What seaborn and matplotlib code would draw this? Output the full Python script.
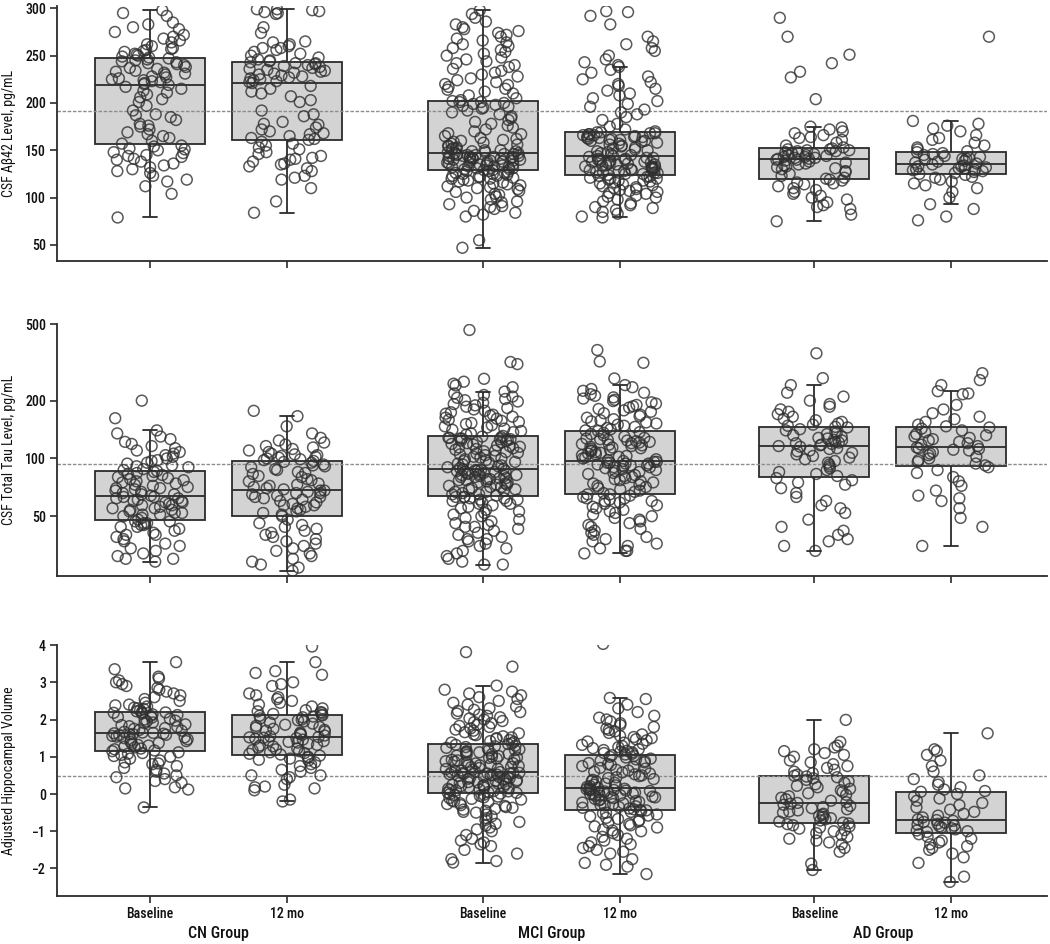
import numpy as np
import pandas as pd
import matplotlib
matplotlib.use("Agg")
import matplotlib.pyplot as plt
from matplotlib.ticker import FixedLocator, FixedFormatter, NullLocator
import seaborn as sns

# six boxes: three groups, baseline and 12 mo each
conditions = ["CN Baseline", "CN 12 mo", "MCI Baseline", "MCI 12 mo", "AD Baseline", "AD 12 mo"]
tick_labels = ["Baseline", "12 mo", "Baseline", "12 mo", "Baseline", "12 mo"]
group_names = ["CN Group", "MCI Group", "AD Group"]

# CSF Abeta42, pg/mL
abeta_cn_bl = [79, 104, 112, 117, 119, 123, 126, 128, 130, 132, 134, 136, 138, 140, 141, 143, 144, 145, 147, 148, 150, 151, 152, 154, 155,
               157, 160, 163, 165, 167, 169, 172, 175, 176, 178, 182, 185, 187, 188, 192, 197, 201, 204, 206, 209, 211, 213, 215, 217, 219,
               220, 221, 222, 223, 224, 225, 226, 227, 228, 230, 231, 232, 233, 234, 236, 237, 238, 240, 241, 242, 243, 244, 245, 246, 247,
               248, 249, 250, 251, 252, 254, 255, 256, 257, 258, 260, 262, 264, 266, 268, 270, 272, 275, 278, 280, 283, 285, 292, 295, 298]
abeta_cn_12 = [84, 96, 110, 119, 121, 123, 128, 131, 133, 135, 136, 138, 140, 141, 142, 144, 146, 148, 151, 153, 155, 157, 159,
               161, 162, 163, 165, 167, 168, 170, 172, 174, 177, 178, 180, 186, 188, 192, 201, 203, 207, 210, 212, 215, 218, 221,
               222, 223, 224, 225, 226, 227, 228, 229, 230, 231, 232, 233, 234, 235, 236, 237, 238, 239, 240, 241, 242, 242, 243,
               244, 245, 246, 248, 250, 252, 254, 256, 258, 258, 260, 262, 264, 265, 274, 280, 294, 295, 296, 297, 298, 299, 299]
abeta_mci_bl = [47, 55, 80, 82, 84, 86, 88, 90, 91, 93, 95, 96, 98, 100, 101, 103, 104, 106, 107, 109, 110, 111, 112, 113, 114,
                115, 116, 117, 118, 119, 120, 120, 121, 122, 122, 123, 123, 124, 125, 125, 126, 126, 127, 128, 128,
                129, 129, 130, 130, 131, 131, 132, 132, 133, 133, 134, 134, 135, 135, 136, 136, 137, 137, 138, 138, 139, 139, 140,
                140, 140, 141, 141, 141, 142, 142, 142, 143, 143, 143, 144, 144, 144, 145, 145, 145, 146, 146, 146, 147, 147,
                148, 148, 149, 149, 150, 150, 151, 152, 152, 153, 154, 155, 156, 157, 158, 159, 160, 161, 162, 163, 165, 167, 168,
                170, 172, 174, 176, 178, 180, 182, 184, 186, 188, 190, 192, 194, 195, 196, 197, 198, 199, 200, 201, 201, 202,
                203, 205, 208, 210, 212, 214, 215, 217, 219, 220, 222, 224, 226, 228, 230, 232, 234, 236, 238, 240, 242, 244, 246,
                248, 250, 252, 254, 256, 258, 260, 262, 264, 266, 268, 270, 272, 274, 276, 278, 280, 283, 286, 290, 294, 298]
abeta_mci_12 = [79, 80, 83, 85, 87, 89, 90, 92, 94, 96, 98, 100, 101, 102, 104, 105, 106, 107, 108, 109, 110, 111, 112, 113,
                114, 115, 116, 117, 118, 118, 119, 120, 120, 121, 122, 122, 123, 124,
                125, 125, 126, 126, 127, 127, 128, 128, 129, 129, 130, 130, 131, 131, 132, 132, 133, 133, 134, 134, 135, 135, 136,
                136, 137, 137, 138, 138, 139, 139, 140, 140, 141, 141, 142, 142, 143,
                144, 144, 145, 146, 147, 148, 149, 150, 151, 152, 153, 154, 155, 156, 157, 158, 159, 160, 160, 161, 161, 162, 162,
                163, 163, 164, 164, 165, 165, 166, 166, 167, 167, 168, 168, 169, 169,
                170, 172, 175, 178, 182, 185, 188, 190, 193, 196, 199, 202, 205, 208, 210, 213, 215, 218, 220, 222, 225, 228, 232,
                235, 238, 240, 243, 246, 250, 255, 258, 262, 265, 270, 283, 292, 296, 297]
abeta_ad_bl = [75, 82, 88, 90, 92, 95, 98, 100, 102, 104, 106, 108, 110, 112, 114, 115, 116, 118, 119,
               120, 121, 123, 125, 127, 128, 130, 131, 132, 133, 134, 135, 136, 137, 138, 139, 140, 140, 141,
               141, 142, 142, 143, 143, 144, 145, 145, 146, 147, 147, 148, 149, 149, 150, 150, 151, 151, 152,
               153, 155, 158, 161, 163, 164, 166, 168, 170, 172, 174, 175, 204, 227, 233, 242, 251, 270, 290]
abeta_ad_12 = [76, 80, 88, 93, 100, 106, 110, 113, 115, 117, 119, 121, 122, 124,
               125, 126, 127, 128, 129, 129, 130, 131, 131, 132, 133, 133, 134, 135,
               136, 137, 138, 139, 140, 141, 141, 142, 143, 144, 145, 146, 147, 148,
               149, 151, 153, 155, 158, 161, 163, 166, 170, 173, 176, 178, 181, 270]

# CSF total tau, pg/mL
tau_cn_bl = [29, 30, 30, 31, 32, 33, 34, 35, 36, 37, 38, 39, 40, 40, 41, 42, 43, 44, 44, 45, 45, 46, 46, 47, 47,
             48, 49, 50, 51, 51, 52, 52, 53, 54, 54, 55, 55, 56, 57, 57, 58, 59, 59, 60, 60, 61, 62, 62, 63, 63,
             64, 65, 65, 66, 67, 68, 69, 70, 70, 71, 72, 73, 74, 75, 76, 77, 78, 79, 80, 81, 82, 83, 84, 85, 86,
             87, 88, 90, 91, 92, 94, 95, 97, 98, 100, 102, 104, 106, 108, 110, 113, 116, 119, 122, 126, 130, 135, 140, 162, 200]
tau_cn_12 = [26, 27, 28, 29, 30, 31, 32, 33, 34, 35, 36, 37, 38, 39, 40, 41, 42, 43, 44, 45, 46, 48, 50,
             51, 52, 53, 54, 55, 56, 57, 57, 58, 59, 60, 61, 62, 63, 63, 64, 65, 66, 66, 67, 68, 68,
             69, 70, 71, 72, 73, 74, 76, 77, 78, 80, 81, 83, 84, 85, 87, 88, 90, 91, 92, 93, 95, 96,
             97, 98, 99, 100, 101, 102, 103, 104, 105, 106, 108, 110, 112, 114, 116, 118, 121, 124, 128, 135, 147, 166, 177]
tau_mci_bl = [28, 28, 29, 30, 31, 32, 33, 34, 35, 36, 37, 38, 38, 39, 40, 41, 42, 43, 44, 44, 45, 46, 47, 48, 49,
              50, 51, 52, 53, 54, 55, 56, 57, 58, 58, 59, 60, 60, 61, 61, 62, 62, 63, 63, 63,
              64, 65, 65, 66, 67, 67, 68, 69, 69, 70, 71, 71, 72, 73, 73, 74, 75, 75, 76, 77, 77, 78, 78, 79, 79,
              80, 80, 81, 81, 82, 82, 83, 83, 84, 84, 85, 85, 86, 86, 86, 87, 87, 87, 88, 88,
              89, 90, 91, 92, 93, 94, 95, 96, 97, 98, 99, 100, 101, 102, 103, 104, 105, 106, 107, 108, 109, 110, 111, 112,
              113, 114, 115, 116, 117, 118, 119, 120, 121, 122, 123, 124, 125, 126, 126, 127, 127, 128, 128, 129, 130,
              131, 133, 135, 137, 139, 141, 143, 145, 147, 149, 151, 153, 155, 157, 159, 161, 163, 165, 167, 169, 171, 174,
              177, 180, 183, 186, 189, 192, 195, 198, 201, 204, 207, 210, 214, 218, 223, 235, 240, 245, 251, 260, 310, 318, 467]
tau_mci_12 = [32, 33, 33, 34, 35, 36, 37, 38, 39, 40, 41, 42, 43, 44, 45, 46, 47, 48, 49, 50, 51, 52, 53, 54, 55, 56, 57,
              58, 59, 60, 60, 61, 62, 62, 63, 64, 65, 65,
              66, 67, 68, 69, 70, 71, 72, 73, 74, 75, 76, 77, 78, 79, 80, 81, 82, 83, 84, 85, 86, 87, 88, 89, 90, 90, 91,
              92, 92, 93, 94, 94, 95, 95, 96, 96, 97,
              98, 99, 100, 101, 102, 103, 104, 105, 106, 107, 108, 109, 110, 111, 112, 113, 114, 115, 116, 117, 118, 119,
              120, 121, 122, 123, 124, 125, 126, 127, 128, 130, 132, 134, 136, 137, 139,
              140, 142, 144, 146, 148, 150, 152, 154, 156, 158, 160, 163, 166, 169, 172, 175, 178, 181, 184, 187, 190, 193,
              196, 199, 202, 205, 208, 212, 216, 220, 225, 230, 235, 241, 261, 315, 320, 367]
tau_ad_bl = [33, 35, 37, 38, 40, 42, 44, 48, 52, 55, 57, 60, 63, 66, 70, 73, 75, 77, 79,
             81, 83, 85, 87, 89, 91, 93, 95, 97, 99, 101, 103, 105, 107, 109, 110, 112, 113, 115,
             116, 117, 118, 119, 120, 121, 122, 124, 125, 127, 128, 130, 132, 134, 136, 138, 140, 142, 145,
             146, 148, 150, 152, 155, 158, 161, 165, 170, 175, 180, 186, 192, 200, 210, 220, 241, 262, 353]
tau_ad_12 = [35, 44, 49, 55, 60, 62, 64, 68, 72, 76, 80, 84, 87, 90,
             92, 94, 96, 98, 100, 102, 104, 106, 108, 110, 111, 112, 113, 114,
             116, 118, 120, 122, 124, 126, 128, 130, 132, 134, 137, 140, 143, 145,
             147, 150, 155, 160, 165, 172, 180, 190, 216, 218, 224, 241, 256, 278]

# adjusted hippocampal volume
hippo_cn_bl = [-0.36, 0.12, 0.15, 0.18, 0.3, 0.35, 0.4, 0.45, 0.5, 0.55, 0.6, 0.65, 0.7, 0.75, 0.8, 0.82, 0.85, 0.9, 0.95, 1.0,
               1.02, 1.05, 1.08, 1.1, 1.12,
               1.15, 1.17, 1.2, 1.22, 1.25, 1.27, 1.3, 1.32, 1.35, 1.37, 1.4, 1.42, 1.45, 1.47, 1.5, 1.52, 1.54, 1.56, 1.58,
               1.59, 1.6, 1.61, 1.62, 1.63, 1.64,
               1.65, 1.67, 1.7, 1.72, 1.75, 1.77, 1.8, 1.82, 1.85, 1.87, 1.9, 1.92, 1.95, 1.97, 2.0, 2.02, 2.05, 2.07, 2.1,
               2.12, 2.14, 2.16, 2.18, 2.19, 2.2,
               2.22, 2.25, 2.28, 2.3, 2.32, 2.35, 2.38, 2.4, 2.45, 2.5, 2.55, 2.6, 2.65, 2.7, 2.75, 2.8, 2.85, 2.9, 2.95, 3.0,
               3.05, 3.1, 3.15, 3.35, 3.54]
hippo_cn_12 = [-0.2, -0.15, 0.1, 0.15, 0.18, 0.2, 0.25, 0.4, 0.45, 0.5, 0.5, 0.6, 0.65, 0.7, 0.75, 0.8, 0.85, 0.9, 0.92, 0.95,
               0.98, 1.0, 1.03,
               1.06, 1.08, 1.1, 1.12, 1.15, 1.18, 1.2, 1.22, 1.25, 1.28, 1.3, 1.32, 1.35, 1.38, 1.4, 1.42, 1.44, 1.46, 1.48,
               1.5, 1.51, 1.52, 1.53,
               1.55, 1.57, 1.6, 1.62, 1.65, 1.68, 1.7, 1.72, 1.75, 1.78, 1.8, 1.83, 1.86, 1.89, 1.92, 1.95, 1.98, 2.0, 2.03,
               2.06, 2.08, 2.1, 2.11,
               2.13, 2.15, 2.18, 2.2, 2.22, 2.25, 2.3, 2.35, 2.4, 2.45, 2.5, 2.55, 2.6, 2.65, 2.7, 2.9, 2.95, 3.0, 3.2, 3.25,
               3.3, 3.54, 3.96]
hippo_mci_bl = [-1.84, -1.8, -1.75, -1.6, -1.5, -1.4, -1.35, -1.3, -1.25, -1.2, -1.1, -1.0, -0.95, -0.9, -0.85, -0.8, -0.75,
                -0.7, -0.65, -0.6, -0.55, -0.5, -0.48, -0.45, -0.42, -0.4, -0.37, -0.35, -0.32, -0.3, -0.27, -0.25, -0.22,
                -0.2, -0.18, -0.15, -0.13, -0.11, -0.09, -0.07, -0.05, -0.03, -0.02, 0.0, 0.01,
                0.03, 0.04, 0.05, 0.07, 0.08, 0.1, 0.11, 0.12, 0.14, 0.15, 0.17, 0.18, 0.2, 0.21, 0.22, 0.24, 0.25, 0.27,
                0.28, 0.3, 0.31, 0.32, 0.34, 0.35, 0.37, 0.38, 0.4, 0.41, 0.42, 0.44, 0.45, 0.46, 0.48, 0.49, 0.5, 0.51,
                0.52, 0.53, 0.54, 0.55, 0.55, 0.56, 0.57, 0.57, 0.58,
                0.59, 0.6, 0.62, 0.63, 0.65, 0.67, 0.68, 0.7, 0.72, 0.73, 0.75, 0.77, 0.78, 0.8, 0.82, 0.83, 0.85, 0.87,
                0.88, 0.9, 0.92, 0.93, 0.95, 0.97, 0.98, 1.0, 1.02, 1.03, 1.05, 1.07, 1.08, 1.1, 1.12, 1.13, 1.15, 1.17,
                1.18, 1.2, 1.22, 1.24, 1.26, 1.28, 1.3, 1.32, 1.34,
                1.36, 1.38, 1.4, 1.42, 1.45, 1.48, 1.5, 1.52, 1.55, 1.58, 1.6, 1.63, 1.66, 1.7, 1.73, 1.76, 1.8, 1.83,
                1.86, 1.9, 1.93, 1.96, 2.0, 2.03, 2.06, 2.1, 2.13, 2.16, 2.2, 2.23, 2.26, 2.3, 2.35, 2.4, 2.45, 2.5, 2.55,
                2.6, 2.65, 2.7, 2.75, 2.8, 2.91, 3.42, 3.81]
hippo_mci_12 = [-2.15, -1.95, -1.9, -1.85, -1.75, -1.6, -1.55, -1.5, -1.45, -1.4, -1.35, -1.3, -1.25, -1.2, -1.15, -1.1,
                -1.05, -1.0, -0.98, -0.95, -0.9, -0.87, -0.84, -0.8, -0.77, -0.74, -0.7, -0.67, -0.64, -0.6, -0.58,
                -0.55, -0.52, -0.5, -0.48, -0.46, -0.44, -0.43,
                -0.41, -0.39, -0.37, -0.35, -0.33, -0.31, -0.29, -0.27, -0.25, -0.23, -0.21, -0.19, -0.17, -0.15, -0.13,
                -0.11, -0.09, -0.08, -0.07, -0.05, -0.04, -0.03, -0.01, 0.0, 0.01, 0.03, 0.04, 0.05, 0.07, 0.08, 0.09,
                0.1, 0.11, 0.12, 0.13, 0.14, 0.15,
                0.17, 0.19, 0.21, 0.23, 0.25, 0.28, 0.3, 0.33, 0.35, 0.38, 0.4, 0.43, 0.45, 0.48, 0.5, 0.53, 0.55, 0.58,
                0.6, 0.63, 0.65, 0.68, 0.7, 0.73, 0.75, 0.78, 0.8, 0.83, 0.85, 0.88, 0.9, 0.93, 0.95, 0.98, 1.0, 1.02, 1.04,
                1.06, 1.08, 1.1, 1.12, 1.14, 1.16, 1.18, 1.2, 1.23, 1.26, 1.29, 1.32, 1.35, 1.38, 1.41, 1.44, 1.47, 1.5,
                1.53, 1.56, 1.6, 1.64, 1.68, 1.72, 1.76, 1.8, 1.85, 1.9, 1.95, 2.0, 2.05, 2.1, 2.2, 2.3, 2.4, 2.55, 2.58, 4.03]
hippo_ad_bl = [-2.04, -1.87, -1.55, -1.45, -1.35, -1.3, -1.25, -1.2, -1.15, -1.1, -1.05, -1.0, -0.97, -0.93, -0.9, -0.87,
               -0.84, -0.81, -0.79,
               -0.77, -0.74, -0.71, -0.68, -0.65, -0.62, -0.59, -0.56, -0.53, -0.5, -0.47, -0.44, -0.41, -0.38, -0.35,
               -0.32, -0.29, -0.26, -0.24,
               -0.22, -0.18, -0.14, -0.1, -0.06, -0.02, 0.02, 0.06, 0.1, 0.14, 0.18, 0.22, 0.26, 0.3, 0.34, 0.38, 0.42,
               0.45, 0.47,
               0.49, 0.52, 0.56, 0.6, 0.65, 0.7, 0.75, 0.8, 0.85, 0.9, 1.0, 1.05, 1.1, 1.15, 1.2, 1.25, 1.3, 1.4, 1.99]
hippo_ad_12 = [-2.36, -2.22, -1.85, -1.7, -1.6, -1.5, -1.45, -1.4, -1.35, -1.3, -1.25, -1.2, -1.15, -1.08,
               -1.02, -1.0, -0.98, -0.95, -0.92, -0.9, -0.87, -0.85, -0.82, -0.8, -0.77, -0.75, -0.72, -0.7,
               -0.68, -0.63, -0.58, -0.53, -0.48, -0.42, -0.36, -0.3, -0.24, -0.18, -0.12, -0.06, 0.0, 0.06,
               0.08, 0.12, 0.18, 0.25, 0.32, 0.4, 0.5, 0.6, 0.75, 0.9, 1.05, 1.15, 1.2, 1.63]

abeta = [abeta_cn_bl, abeta_cn_12, abeta_mci_bl, abeta_mci_12, abeta_ad_bl, abeta_ad_12]
tau = [tau_cn_bl, tau_cn_12, tau_mci_bl, tau_mci_12, tau_ad_bl, tau_ad_12]
hippo = [hippo_cn_bl, hippo_cn_12, hippo_mci_bl, hippo_mci_12, hippo_ad_bl, hippo_ad_12]

# cutoff lines
ref_abeta = 192
ref_tau = 93
ref_hippo = 0.49

# x positions (groups are spaced wider than the two visits within a group)
x_pos = [0, 1, 2.43, 3.43, 4.85, 5.85]


def long_frame(series):
    rows = []
    for pos, vals in zip(x_pos, series):
        for v in vals:
            rows.append((pos, v))
    return pd.DataFrame(rows, columns=["pos", "value"])


sns.set_theme(style="ticks")
plt.rcParams["font.family"] = ["Roboto Condensed", "Liberation Sans Narrow", "Liberation Sans", "DejaVu Sans"]
plt.rcParams["font.weight"] = "medium"
np.random.seed(7)

fig = plt.figure(figsize=(10.5, 9.44), dpi=100)
panels = [
    dict(data=abeta, label="CSF A\u03b242 Level, pg/mL", ref=ref_abeta, rect=[0.0543, 0.7235, 0.9429, 0.2697],
         ylim=(33, 302), ticks=[50, 100, 150, 200, 250, 300], log=False),
    dict(data=tau, label="CSF Total Tau Level, pg/mL", ref=ref_tau, rect=[0.0543, 0.3898, 0.9429, 0.2667],
         ylim=(24.4, 500), ticks=[50, 100, 200, 500], log=True),
    dict(data=hippo, label="Adjusted Hippocampal Volume", ref=ref_hippo, rect=[0.0543, 0.0508, 0.9429, 0.2659],
         ylim=(-2.74, 4.0), ticks=[-2, -1, 0, 1, 2, 3, 4], log=False),
]

ink = "#2b2b2b"
for i, p in enumerate(panels):
    ax = fig.add_axes(p["rect"])
    df = long_frame(p["data"])
    sns.boxplot(data=df, x="pos", y="value", native_scale=True, width=0.8, color="#d3d3d3",
                saturation=1, linecolor=ink, linewidth=1.3, showfliers=False, whis=1.5,
                capwidths=0.1, ax=ax)
    ax.axhline(p["ref"], color="#8c8c8c", lw=1.0, ls=(0, (2.5, 1.2)), zorder=2.5)
    sns.stripplot(data=df, x="pos", y="value", native_scale=True, jitter=0.28, size=7.8,
                  edgecolor="#303030", linewidth=1.1, alpha=0.8, ax=ax, zorder=3)
    for coll in ax.collections:
        coll.set_facecolor("none")
        coll.set_edgecolor("#303030")

    if p["log"]:
        ax.set_yscale("log")
        ax.yaxis.set_minor_locator(NullLocator())
    ax.set_ylim(*p["ylim"])
    ax.yaxis.set_major_locator(FixedLocator(p["ticks"]))
    ax.yaxis.set_major_formatter(FixedFormatter(["\u2212" + str(-t) if t < 0 else str(t) for t in p["ticks"]]))

    ax.set_xlim(-0.68, 6.55)
    ax.set_xticks(x_pos)
    if i == 2:
        ax.set_xticklabels(tick_labels)
        for g, name in enumerate(group_names):
            mid = (x_pos[2 * g] + x_pos[2 * g + 1]) / 2
            ax.text(mid, -0.148, name, transform=ax.get_xaxis_transform(), ha="center", va="center",
                    fontsize=11.5, color="#111111")
    else:
        ax.set_xticklabels([""] * 6)
    ax.set_xlabel("")
    ax.set_ylabel(p["label"], fontsize=10, color="#111111")
    ax.yaxis.set_label_coords(-0.041, 0.5)

    sns.despine(ax=ax)
    for s in ["left", "bottom"]:
        ax.spines[s].set_linewidth(1.3)
        ax.spines[s].set_color(ink)
    ax.tick_params(axis="both", direction="out", length=5, width=1.2, color=ink,
                   labelsize=10, labelcolor="#111111", pad=3)

fig.savefig("out.png", dpi=100)
